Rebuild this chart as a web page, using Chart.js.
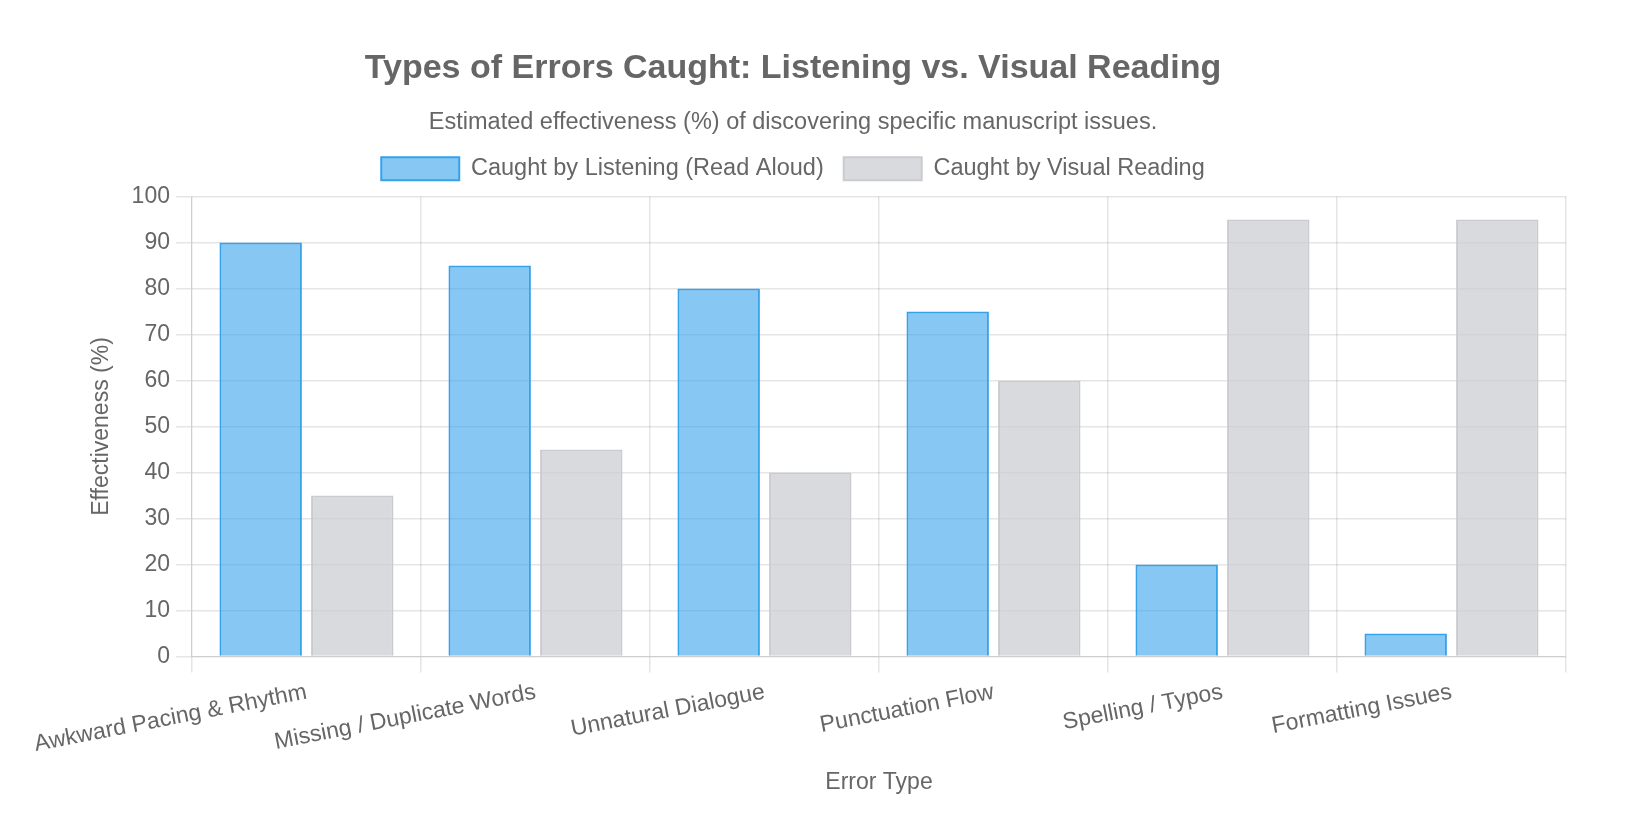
<!DOCTYPE html>
<html>
<head>
<meta charset="utf-8">
<title>Types of Errors Caught</title>
<script src="https://cdn.jsdelivr.net/npm/chart.js@4.4.0/dist/chart.umd.min.js"></script>
<style>
  html, body { margin: 0; padding: 0; background: #fff; }
  #wrap { width: 1628px; height: 826px; }
</style>
</head>
<body>
<div id="wrap"><canvas id="errorsChart"></canvas></div>
<script>
var errorTypes = ['Awkward Pacing & Rhythm', 'Missing / Duplicate Words', 'Unnatural Dialogue', 'Punctuation Flow', 'Spelling / Typos', 'Formatting Issues'];
var listeningValues = [90, 85, 80, 75, 20, 5];
var visualValues = [35, 45, 40, 60, 95, 95];

var fontFamily = "'Liberation Sans', Arial, sans-serif";
Chart.defaults.font.family = fontFamily;
Chart.defaults.color = '#666';

// a bit of extra room between the legend and the plot
var legendMargin = {
    id: 'legendMargin',
    beforeInit: function (chart) {
        var fit = chart.legend.fit;
        chart.legend.fit = function () {
            fit.bind(chart.legend)();
            this.height += 6;
        };
    }
};

var ctx = document.getElementById('errorsChart').getContext('2d');

var myChart = new Chart(ctx, {
    type: 'bar',
    data: {
        labels: errorTypes,
        datasets: [{
            label: 'Caught by Listening (Read Aloud)',
            data: listeningValues,
            backgroundColor: 'rgba(54, 162, 235, 0.6)',
            borderColor: 'rgb(54, 162, 235)',
            borderWidth: 2
        }, {
            label: 'Caught by Visual Reading',
            data: visualValues,
            backgroundColor: 'rgba(201, 203, 207, 0.7)',
            borderColor: 'rgb(201, 203, 207)',
            borderWidth: 2
        }]
    },
    plugins: [legendMargin],
    options: {
        responsive: true,
        maintainAspectRatio: false,
        animation: false,
        layout: {
            padding: { top: 38, right: 62, bottom: 18, left: 20 }
        },
        plugins: {
            title: {
                display: true,
                text: 'Types of Errors Caught: Listening vs. Visual Reading',
                font: { size: 34, weight: 'bold' },
                padding: { top: 10, bottom: 20 }
            },
            subtitle: {
                display: true,
                text: 'Estimated effectiveness (%) of discovering specific manuscript issues.',
                font: { size: 23.5 },
                padding: { top: 0, bottom: 0 }
            },
            legend: {
                labels: {
                    font: { size: 23.5 },
                    boxWidth: 78,
                    boxHeight: 23,
                    padding: 20
                }
            }
        },
        scales: {
            x: {
                title: {
                    display: true,
                    text: 'Error Type',
                    font: { size: 23 },
                    padding: { top: 4, bottom: 12 }
                },
                grid: { lineWidth: 1.5, tickLength: 16 },
                ticks: { font: { size: 23 }, padding: 6, minRotation: 11, maxRotation: 11 }
            },
            y: {
                beginAtZero: true,
                max: 100,
                title: {
                    display: true,
                    text: 'Effectiveness (%)',
                    font: { size: 23 },
                    padding: { top: 68, bottom: 10 }
                },
                grid: { lineWidth: 1.5, tickLength: 16 },
                ticks: { font: { size: 23 }, padding: 6, stepSize: 10 }
            }
        }
    }
});
</script>
</body>
</html>
